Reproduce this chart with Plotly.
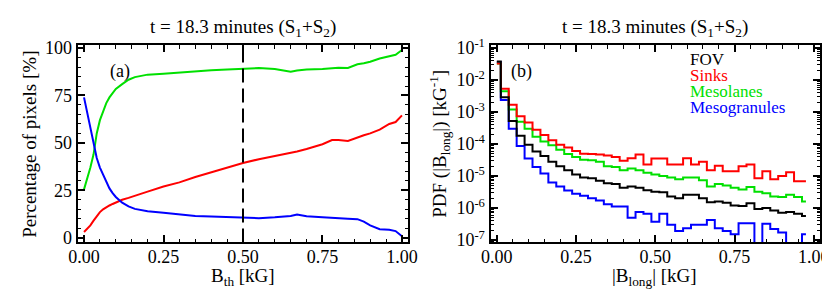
import plotly.graph_objects as go

# ---------------- Panel (a): percentage of pixels vs threshold ----------------
b_th = [0.00, 0.01, 0.02, 0.03, 0.04, 0.05, 0.06, 0.07, 0.08, 0.09, 0.10, 0.12,
        0.14, 0.16, 0.18, 0.20, 0.25, 0.30, 0.35, 0.40, 0.45, 0.50, 0.55, 0.60,
        0.65, 0.67, 0.70, 0.75, 0.78, 0.80, 0.83, 0.86, 0.88, 0.90, 0.93, 0.96,
        0.98, 1.00]
pct_sinks = [3.0, 4.5, 6.5, 9.0, 11.5, 13.5, 15.0, 16.2, 17.0, 17.8, 18.6, 20.0,
             21.0, 22.0, 23.0, 24.3, 27.0, 29.2, 32.0, 34.5, 37.0, 39.4, 41.4, 43.0,
             44.5, 45.5, 46.8, 49.3, 51.5, 51.5, 51.0, 53.0, 54.0, 55.0, 57.0, 60.0,
             61.0, 64.5]
pct_mesolanes = [25.5, 31.0, 37.0, 44.0, 55.0, 62.0, 67.0, 71.0, 74.0, 76.5, 78.5, 81.0,
                 83.3, 84.7, 85.5, 86.0, 86.5, 87.2, 87.8, 88.3, 88.7, 89.0, 89.5, 89.0,
                 87.5, 88.2, 88.7, 89.0, 89.4, 89.6, 89.5, 91.5, 92.0, 92.8, 94.5, 95.7,
                 96.5, 99.0]
pct_mesogranules = [74.0, 66.0, 58.0, 49.0, 42.0, 37.0, 33.0, 29.0, 26.0, 23.5, 21.5, 18.5,
                    16.5, 15.2, 14.5, 14.0, 13.2, 12.3, 11.5, 11.2, 10.8, 10.5, 10.3, 10.8,
                    11.5, 12.2, 11.3, 10.8, 10.4, 10.2, 10.0, 9.8, 8.5, 6.5, 4.5, 4.2,
                    3.5, 0.8]
b_dashed = [0.5]

# ---------------- Panel (b): PDF of |B_long| (bin centres, kG) ----------------
b_long = [0.000, 0.025, 0.050, 0.075, 0.100, 0.125, 0.150, 0.175, 0.200, 0.225,
          0.250, 0.275, 0.300, 0.325, 0.350, 0.375, 0.400, 0.425, 0.450, 0.475,
          0.500, 0.525, 0.550, 0.575, 0.600, 0.625, 0.650, 0.675, 0.700, 0.725,
          0.750, 0.775, 0.800, 0.825, 0.850, 0.875, 0.900, 0.925, 0.950, 0.975]
pdf_fov = [3.8e-2, 2.9e-3, 5.2e-4, 1.8e-4, 9.5e-5, 5.8e-5, 4.2e-5, 2.8e-5, 2.0e-5, 1.5e-5,
           1.12e-5, 8.9e-6, 8.5e-6, 7.1e-6, 5.9e-6, 5.6e-6, 4.3e-6, 4.7e-6, 4.3e-6, 3.6e-6,
           3.2e-6, 3.1e-6, 2.3e-6, 2.0e-6, 2.6e-6, 2.6e-6, 2.0e-6, 1.5e-6, 1.6e-6, 1.45e-6,
           1.2e-6, 1.15e-6, 1.4e-6, 9.3e-7, 1.0e-6, 8.3e-7, 7.1e-7, 7.4e-7, 6.6e-7, 5.6e-7]
pdf_sinks = [3.3e-2, 5.4e-3, 1.7e-3, 7.4e-4, 4.7e-4, 2.8e-4, 1.9e-4, 1.3e-4, 9.5e-5, 7.8e-5,
             6.0e-5, 5.0e-5, 4.9e-5, 4.7e-5, 4.4e-5, 3.9e-5, 3.0e-5, 3.6e-5, 4.7e-5, 2.3e-5,
             3.5e-5, 3.5e-5, 2.3e-5, 2.3e-5, 3.6e-5, 2.3e-5, 2.8e-5, 1.5e-5, 2.1e-5, 1.4e-5,
             1.4e-5, 2.0e-5, 2.3e-5, 8.5e-6, 1.4e-5, 7.9e-6, 1.0e-5, 1.3e-5, 6.8e-6, 6.8e-6]
pdf_mesolanes = [3.3e-2, 4.5e-3, 1.2e-3, 5.0e-4, 3.0e-4, 1.7e-4, 1.2e-4, 9.1e-5, 6.6e-5, 4.9e-5,
                 3.9e-5, 3.2e-5, 3.1e-5, 2.8e-5, 2.0e-5, 1.9e-5, 1.5e-5, 1.7e-5, 1.5e-5, 1.26e-5,
                 1.12e-5, 1.0e-5, 8.9e-6, 7.9e-6, 8.9e-6, 8.9e-6, 7.4e-6, 4.7e-6, 5.6e-6, 5.0e-6,
                 4.3e-6, 3.8e-6, 4.5e-6, 3.2e-6, 2.9e-6, 2.3e-6, 2.2e-6, 2.6e-6, 2.2e-6, 1.6e-6]
# 1e-9 marks empty bins (the curve drops below the axis)
pdf_mesogranules = [3.7e-2, 2.4e-3, 3.0e-4, 8.7e-5, 3.5e-5, 1.9e-5, 1.2e-5, 6.3e-6, 4.7e-6, 3.5e-6,
                    2.8e-6, 2.4e-6, 2.0e-6, 1.7e-6, 1.3e-6, 1.1e-6, 1.1e-6, 4.9e-7, 7.4e-7, 6.6e-7,
                    3.7e-7, 6.6e-7, 3.0e-7, 1.9e-7, 2.3e-7, 3.0e-7, 3.0e-7, 4.2e-7, 2.3e-7, 1.9e-7,
                    1.5e-7, 3.3e-7, 3.3e-7, 1e-9, 3.2e-7, 2.2e-7, 1.7e-7, 1e-9, 1e-9, 1.5e-7]

series_names = ["FOV", "Sinks", "Mesolanes", "Mesogranules"]
series_colors = ["#000000", "#ff0000", "#00e000", "#0000ff"]

title_text = "t = 18.3 minutes (S<sub>1</sub>+S<sub>2</sub>)"
FONT = "Liberation Serif"
W, H = 830, 290


def px(x):
    return x / W


def py(y):
    return 1 - y / H


fig = go.Figure()

# panel (a)
for yvals, col in [(pct_mesolanes, series_colors[2]),
                   (pct_sinks, series_colors[1]),
                   (pct_mesogranules, series_colors[3])]:
    fig.add_trace(go.Scatter(x=b_th, y=yvals, mode="lines", xaxis="x", yaxis="y",
                             line=dict(color=col, width=2), showlegend=False,
                             hoverinfo="skip"))

# panel (b)
for yvals, col in [(pdf_mesogranules, series_colors[3]),
                   (pdf_mesolanes, series_colors[2]),
                   (pdf_sinks, series_colors[1]),
                   (pdf_fov, series_colors[0])]:
    fig.add_trace(go.Scatter(x=b_long, y=yvals, mode="lines", xaxis="x2", yaxis="y2",
                             line=dict(color=col, width=2, shape="hvh"),
                             showlegend=False, hoverinfo="skip"))

# dashed threshold line in panel (a)
for xv in b_dashed:
    fig.add_shape(type="line", xref="x", yref="y domain", x0=xv, x1=xv, y0=0, y1=1,
                  line=dict(color="black", width=2, dash="14px,6px"))

common_axis = dict(showline=True, linewidth=2, linecolor="black", mirror="allticks",
                   ticks="inside", ticklen=7, tickwidth=1.5, tickcolor="black",
                   showgrid=False, zeroline=False,
                   tickfont=dict(family=FONT, size=18, color="black"))

x_dom_a = [px(62), px(400)]
x_dom_b = [px(484), px(821)]
y_dom = [py(239.5), py(30)]

decades = [-7, -6, -5, -4, -3, -2, -1]
minor_log = [m * 10.0 ** d for d in range(-8, 0) for m in range(2, 10)]

fig.update_layout(
    width=W, height=H,
    margin=dict(l=0, r=0, t=0, b=0),
    paper_bgcolor="white", plot_bgcolor="white",
    font=dict(family=FONT, size=18, color="black"),
    xaxis=dict(domain=x_dom_a, anchor="y", range=[-0.02, 1.02], tick0=0, dtick=0.25,
               tickformat=".2f", ticklabelstandoff=-3,
               minor=dict(ticks="inside", ticklen=3.5, dtick=0.05, tick0=0,
                          tickcolor="black", tickwidth=1.2, showgrid=False),
               **common_axis),
    yaxis=dict(domain=y_dom, anchor="x", range=[-2.5, 101.5], tick0=0, dtick=25,
               minor=dict(ticks="inside", ticklen=3.5, dtick=5, tick0=0,
                          tickcolor="black", tickwidth=1.2, showgrid=False),
               **common_axis),
    xaxis2=dict(domain=x_dom_b, anchor="y2", range=[-0.02, 1.02], tick0=0, dtick=0.25,
                tickformat=".2f", ticklabelstandoff=-3,
                minor=dict(ticks="inside", ticklen=3.5, dtick=0.05, tick0=0,
                           tickcolor="black", tickwidth=1.2, showgrid=False),
                **common_axis),
    yaxis2=dict(domain=y_dom, anchor="x2", type="log", range=[-7.08, -0.91],
                tickmode="array", tickvals=[10.0 ** d for d in decades],
                ticktext=["10<sup>%d</sup>" % d for d in decades],
                minor=dict(ticks="inside", ticklen=3.5, tickmode="array",
                           tickvals=minor_log, tickcolor="black", tickwidth=1.2,
                           showgrid=False),
                **common_axis),
)

ann = []
# titles
ann.append(dict(x=px(231), y=py(12), text=title_text))
ann.append(dict(x=px(652), y=py(12), text=title_text))
# x axis titles
ann.append(dict(x=px(231), y=py(276), text="B<sub>th</sub> [kG]"))
ann.append(dict(x=px(652), y=py(276), text="|B<sub>long</sub>| [kG]"))
# y axis titles
ann.append(dict(x=px(12), y=py(135), text="Percentage of pixels [%]", textangle=-90))
ann.append(dict(x=px(431), y=py(135),
                text="PDF (|B<sub>long</sub>|) [kG<sup>-1</sup>]", textangle=-90))
for a in ann:
    a.update(xref="paper", yref="paper", showarrow=False, xanchor="center",
             yanchor="middle", font=dict(family=FONT, size=19, color="black"))

# panel labels
ann.append(dict(x=px(93), y=py(45), text="(a)", xref="paper", yref="paper",
                showarrow=False, font=dict(family=FONT, size=18, color="black")))
ann.append(dict(x=px(516), y=py(45), text="(b)", xref="paper", yref="paper",
                showarrow=False, font=dict(family=FONT, size=18, color="black")))
# legend text
leg_y = [45, 62, 79, 96]
for name, col, yy in zip(series_names, series_colors, leg_y):
    ann.append(dict(x=px(686), y=py(yy), text=name, xref="paper", yref="paper",
                    showarrow=False, xanchor="left", yanchor="middle",
                    font=dict(family=FONT, size=17, color=col)))

fig.update_layout(annotations=ann)
fig.write_html("out.html")
